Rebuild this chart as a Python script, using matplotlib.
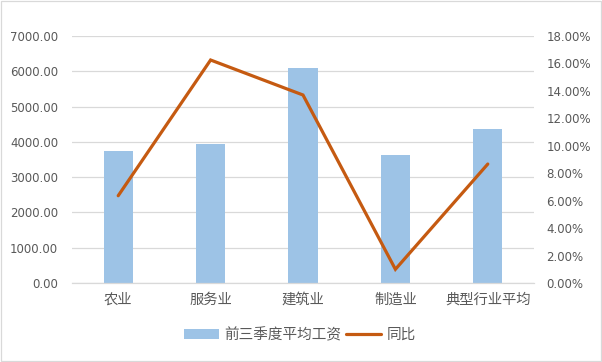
import matplotlib
matplotlib.use("Agg")
import matplotlib.pyplot as plt
from matplotlib.ticker import FuncFormatter, MultipleLocator
from matplotlib.patches import Rectangle

plt.rcParams['font.family'] = ['Noto Sans CJK SC', 'DejaVu Sans']

# data
categories = ['农业', '服务业', '建筑业', '制造业', '典型行业平均']
avg_wage = [3740, 3940, 6090, 3630, 4360]
yoy = [0.0636, 0.1625, 0.137, 0.010, 0.0867]

bar_color = '#9DC3E6'
line_color = '#C55A11'
text_color = '#595959'

fig = plt.figure(figsize=(6.02, 3.62), dpi=100)
ax = fig.add_axes([72 / 602, 79 / 362, 462 / 602, 247 / 362])
ax2 = ax.twinx()

x = range(len(categories))
bars = ax.bar(x, avg_wage, width=0.315, color=bar_color, zorder=2, label='前三季度平均工资')
line, = ax2.plot(x, yoy, color=line_color, lw=2.3, solid_capstyle='round',
                 solid_joinstyle='miter', zorder=3, label='同比')

ax.set_xlim(-0.5, len(categories) - 0.5)
ax.set_ylim(0, 7000)
ax.yaxis.set_major_locator(MultipleLocator(1000))
ax.yaxis.set_major_formatter(FuncFormatter(lambda v, p: f'{v:.2f}'))
ax2.set_ylim(0, 0.18)
ax2.yaxis.set_major_locator(MultipleLocator(0.02))
ax2.yaxis.set_major_formatter(FuncFormatter(lambda v, p: f'{v * 100:.2f}%'))

ax.grid(axis='y', color='#D9D9D9', lw=0.9, zorder=0)
ax.set_axisbelow(True)
ax.set_xticks(list(x))
ax.set_xticklabels(categories, fontsize=10.3, color=text_color)

for a in (ax, ax2):
    for s in a.spines.values():
        s.set_visible(False)
    a.tick_params(length=0)
ax.spines['bottom'].set_visible(True)
ax.spines['bottom'].set_color('#D9D9D9')
ax.spines['bottom'].set_linewidth(0.9)

ax.tick_params(axis='y', pad=10, labelsize=8.5, labelcolor=text_color)
ax.tick_params(axis='x', pad=7)
ax2.tick_params(axis='y', pad=9, labelsize=8.5, labelcolor=text_color)
for lab in ax.get_yticklabels() + ax2.get_yticklabels():
    lab.set_family('DejaVu Sans')

fig.legend([bars, line], ['前三季度平均工资', '同比'], loc='center',
           bbox_to_anchor=(300 / 602, 1 - 335 / 362), ncol=2, frameon=False,
           fontsize=10.5, labelcolor=text_color, handlelength=2.4, handleheight=0.7,
           handletextpad=0.4, columnspacing=0.3)

fig.patches.append(Rectangle((0.001, 0.002), 0.997, 0.995, transform=fig.transFigure,
                             fill=False, edgecolor='#D9D9D9', lw=0.9))

fig.savefig('out.png', dpi=100)
